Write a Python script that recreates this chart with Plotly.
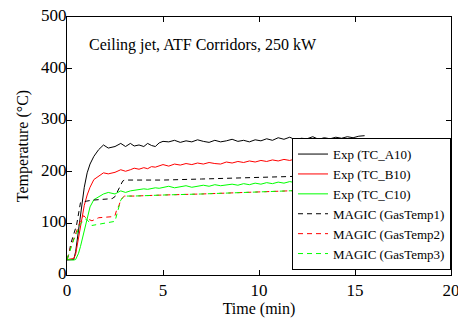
import plotly.graph_objects as go

# ---- data ----
t_exp = [0, 0.25, 0.35, 0.45, 0.6, 0.7, 0.8, 0.9, 1.05, 1.2, 1.4, 1.65, 1.9, 2.15, 2.5,
         2.8, 3.05, 3.3, 3.5, 3.75, 4.0, 4.2, 4.4, 4.6, 4.8, 5.0,
         5.3, 5.6, 5.9, 6.2, 6.5, 6.8, 7.1, 7.4, 7.7, 8.0, 8.3, 8.6, 8.9, 9.2, 9.5, 9.8,
         10.1, 10.4, 10.7, 11.0, 11.3, 11.6, 11.9, 12.2, 12.5, 12.8, 13.1, 13.4, 13.7,
         14.0, 14.3, 14.6, 14.9, 15.2, 15.5]

exp_a10 = [29, 29, 30, 45, 85, 115, 148, 170, 198, 215, 230, 243, 252, 246, 249,
           255, 249, 255, 250, 252, 249, 255, 251, 249, 256, 259,
           258, 261, 257, 260, 258, 262, 259, 257, 261, 258, 260, 263, 259, 261, 258,
           262, 260, 264, 261, 266, 263, 267, 262, 265, 264, 268, 263, 266, 264, 267,
           265, 268, 266, 269, 270]

exp_b10 = [30, 31, 32, 40, 70, 92, 112, 135, 155, 170, 185, 192, 198, 196, 199,
           204, 201, 204, 207, 205, 208, 206, 210, 209, 212, 214,
           211, 215, 213, 216, 214, 217, 215, 218, 216, 215, 219, 217, 220, 218, 221,
           219, 222, 220, 223, 221, 224, 222, 225, 223, 226, 221, 224, 222, 227, 224,
           228, 225, 226, 224, 223]

exp_c10 = [30, 29, 29, 30, 42, 55, 70, 85, 110, 132, 146, 152, 157, 160, 157,
           163, 160, 163, 164, 166, 167, 166, 168, 169, 168, 170,
           172, 169, 171, 173, 170, 172, 174, 172, 175, 173, 174, 176, 174, 177, 175,
           178, 176, 179, 177, 180, 178, 181, 179, 182, 180, 182, 181, 183, 182, 184,
           182, 185, 183, 184, 185]

t_magic = [0, 0.1, 0.2, 0.35, 0.5, 0.7, 0.87, 1.0, 1.3, 1.65, 2.0, 2.35, 2.5, 2.6,
           2.7, 2.8, 2.9, 3.0, 3.5, 4, 5, 7, 9, 11, 13, 15.5]
magic_1 = [30, 40, 61, 80, 97, 140, 142, 143, 145, 146, 146, 148, 152, 159,
           168, 176, 182, 184, 184, 183, 184, 186, 188, 190, 192, 195]
magic_2 = [30, 45, 55, 70, 85, 105, 115, 110, 105, 111, 112, 113, 115, 128,
           134, 145, 150, 153, 153, 154, 155, 157, 160, 163, 165, 168]
magic_3 = [30, 42, 54, 68, 80, 99, 106, 109, 96, 98, 100, 102, 104, 118,
           130, 145, 150, 153, 153, 154, 155, 157, 160, 163, 165, 168]

names = ["Exp (TC_A10)", "Exp (TC_B10)", "Exp (TC_C10)",
         "MAGIC (GasTemp1)", "MAGIC (GasTemp2)", "MAGIC (GasTemp3)"]
colors = ["#000000", "#ff0000", "#00ff00"]
title_text = "Ceiling jet, ATF Corridors, 250 kW"

FONT = "Liberation Serif, Times New Roman, serif"

fig = go.Figure()
for ys, nm, c in zip([exp_a10, exp_b10, exp_c10], names[:3], colors):
    fig.add_trace(go.Scatter(x=t_exp, y=ys, name=nm, mode="lines",
                             line=dict(color=c, width=1)))
for ys, nm, c in zip([magic_1, magic_2, magic_3], names[3:], colors):
    fig.add_trace(go.Scatter(x=t_magic, y=ys, name=nm, mode="lines",
                             line=dict(color=c, width=1, dash="5px,4px")))

axis_common = dict(showline=True, linecolor="black", linewidth=1, mirror="ticks",
                   ticks="inside", ticklen=5, tickcolor="black", showgrid=False,
                   zeroline=False, automargin=False, ticklabeloverflow="allow",
                   tickfont=dict(family=FONT, size=17, color="black"))

fig.update_layout(
    width=458, height=312,
    margin=dict(l=59, r=15, t=9, b=45),
    paper_bgcolor="white", plot_bgcolor="white",
    font=dict(family=FONT, color="black"),
    xaxis=dict(range=[0, 20], dtick=5,
               title=dict(text="Time (min)", font=dict(size=16), standoff=0),
               **axis_common),
    yaxis=dict(range=[0, 500], dtick=100, ticklabelstandoff=-4, ticklabelshift=-2,
               title=dict(text="Temperature (°C)", font=dict(size=16), standoff=8),
               **axis_common),
    legend=dict(x=1, y=0.019, xanchor="right", yanchor="bottom", bgcolor="white",
                bordercolor="black", borderwidth=1, font=dict(size=13, family=FONT),
                tracegroupgap=0, itemwidth=30),
    showlegend=True,
    annotations=[dict(text=title_text, x=0.051, y=0.893, xref="paper", yref="paper",
                      xanchor="left", yanchor="middle", showarrow=False,
                      font=dict(size=16, family=FONT))],
)

fig.write_html("out.html")
